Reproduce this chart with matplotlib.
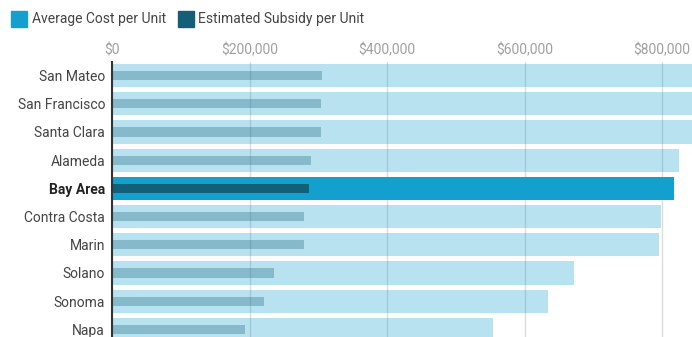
import matplotlib.pyplot as plt
from matplotlib.patches import Rectangle
from matplotlib.ticker import FuncFormatter

plt.rcParams['font.family'] = ['Roboto', 'DejaVu Sans']

counties = ['San Mateo', 'San Francisco', 'Santa Clara', 'Alameda', 'Bay Area',
            'Contra Costa', 'Marin', 'Solano', 'Sonoma', 'Napa']
avg_cost = [870000, 862000, 856000, 825000, 817000, 798000, 795000, 672000, 634000, 554000]
subsidy = [306000, 304500, 304500, 289000, 286500, 279000, 279000, 235500, 221500, 193500]
highlight = 'Bay Area'
ticks = [0, 200000, 400000, 600000, 800000]

cost_col = '#14a0cf'
sub_col = '#135f78'
fs = 10

fig = plt.figure(figsize=(6.92, 3.37), dpi=100)
ax = fig.add_axes([112 / 692, 0, 1 - 112 / 692, 1 - 62 / 337])

ys = list(range(len(counties)))
for y, name, c, s in zip(ys, counties, avg_cost, subsidy):
    a = 1.0 if name == highlight else 0.3
    ax.barh(y, c, height=0.82, color=cost_col, alpha=a, zorder=2)
    ax.barh(y, s, height=0.33, color=sub_col, alpha=a, zorder=3)

ax.set_xlim(0, 580 / 0.6875 * 1000)
ax.set_ylim(9.27, -0.48)

ax.xaxis.tick_top()
ax.set_xticks(ticks)
ax.xaxis.set_major_formatter(FuncFormatter(lambda v, p: '${:,.0f}'.format(v)))
ax.tick_params(axis='x', length=0, pad=3.5, labelsize=fs, labelcolor='#a0a0a0')
ax.grid(axis='x', color='#dcdcdc', linewidth=1, zorder=0)
ax.set_axisbelow(True)

ax.set_yticks(ys)
ax.set_yticklabels(counties)
ax.tick_params(axis='y', length=0, pad=5, labelsize=fs, labelcolor='#444444')
for lab in ax.get_yticklabels():
    if lab.get_text() == highlight:
        lab.set_fontweight('bold')
        lab.set_color('#222222')

for sp in ['top', 'right', 'bottom']:
    ax.spines[sp].set_visible(False)
ax.spines['left'].set_color('#333333')
ax.spines['left'].set_linewidth(1.5)
ax.spines['left'].set_zorder(5)

# legend
W, H = 692, 337
fig.patches.append(Rectangle((11 / W, 1 - 27 / H), 16 / W, 16 / H, transform=fig.transFigure,
                             color=cost_col))
fig.text(32 / W, 1 - 18.5 / H, 'Average Cost per Unit', fontsize=fs, color='#444444',
         va='center', ha='left')
fig.patches.append(Rectangle((178 / W, 1 - 27 / H), 16 / W, 16 / H, transform=fig.transFigure,
                             color=sub_col))
fig.text(198 / W, 1 - 18.5 / H, 'Estimated Subsidy per Unit', fontsize=fs, color='#444444',
         va='center', ha='left')

fig.savefig('out.png', dpi=100)
